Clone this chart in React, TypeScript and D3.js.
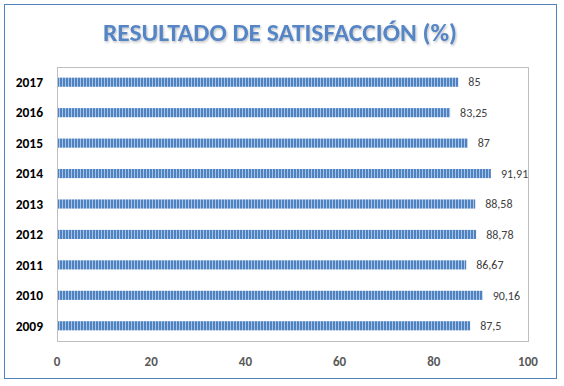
import React from 'react';
import * as d3 from 'd3';

// datos del gráfico
const years = ['2017', '2016', '2015', '2014', '2013', '2012', '2011', '2010', '2009'];
const satisfaction = [85, 83.25, 87, 91.91, 88.58, 88.78, 86.67, 90.16, 87.5];
const valueLabels = ['85', '83,25', '87', '91,91', '88,58', '88,78', '86,67', '90,16', '87,5'];
const xTicks = [0, 20, 40, 60, 80, 100];

const W = 564;
const H = 386;
const plot = { left: 57, right: 528, top: 67, bottom: 341 };

const App = () => {
  const x = d3.scaleLinear().domain([0, 100]).range([plot.left, plot.right]);
  const y = d3.scaleBand().domain(years).range([plot.top, plot.bottom]).paddingInner(0.7).paddingOuter(0.35);

  return (
    <svg width={W} height={H} style={{ position: 'absolute', left: 0, top: 0, fontFamily: 'Carlito, Lato, "Liberation Sans", sans-serif' }}>
      <defs>
        <pattern id="stripes" width={3} height={4} patternUnits="userSpaceOnUse">
          <rect width={3} height={4} fill="#4f82c0" />
          <rect x={2} width={1} height={4} fill="#a9c3e6" />
        </pattern>
        <filter id="shadow" x="-5%" y="-20%" width="110%" height="150%">
          <feDropShadow dx={1} dy={1.5} stdDeviation={0.8} floodColor="#000" floodOpacity={0.25} />
        </filter>
      </defs>
      <rect x={0} y={0} width={W} height={H} fill="#fff" />
      <rect x={4.5} y={4.5} width={552} height={374} fill="#fff" stroke="#4f81bd" strokeWidth={1} />

      <text x={280} y={41} textAnchor="middle" fontSize={24} fontWeight="bold" fill="#5585c4" filter="url(#shadow)"
        textLength={354} lengthAdjust="spacingAndGlyphs">
        RESULTADO DE SATISFACCIÓN (%)
      </text>

      <rect x={plot.left + 0.5} y={plot.top + 0.5} width={plot.right - plot.left} height={plot.bottom - plot.top}
        fill="none" stroke="#bfbfbf" strokeWidth={1} />

      {years.map((yr, i) => (
        <g key={yr}>
          <rect x={x(0) + 1} y={y(yr)!} width={x(satisfaction[i]) - x(0)} height={y.bandwidth()} fill="url(#stripes)" />
          <text x={x(satisfaction[i]) + 11} y={y(yr)! + y.bandwidth() / 2} dy="0.35em" fontSize={12} fill="#404040">
            {valueLabels[i]}
          </text>
          <text x={43} y={y(yr)! + y.bandwidth() / 2} dy="0.35em" textAnchor="end" fontSize={13.5} fontWeight="bold" fill="#000">
            {yr}
          </text>
        </g>
      ))}

      {xTicks.map((t) => (
        <text key={t} x={x(t)} y={361} dy="0.35em" textAnchor="middle" fontSize={13} fontWeight="bold" fill="#595959">
          {t}
        </text>
      ))}
    </svg>
  );
};

export default App;
